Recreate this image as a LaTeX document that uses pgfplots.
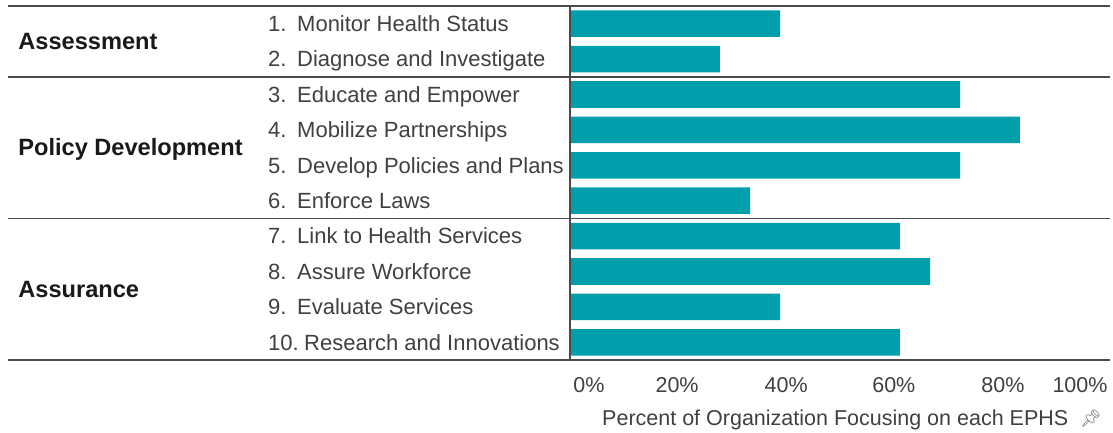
\documentclass[border=0pt]{standalone}
\usepackage{pgfplots}
\pgfplotsset{compat=1.18}
\usepackage{fontspec}
\setmainfont{Liberation Sans}
\newfontfamily\emojifont{Noto Emoji}
\definecolor{barteal}{HTML}{009FAB}
\definecolor{txt}{HTML}{404040}
\definecolor{rule}{HTML}{4A4A4A}
\frenchspacing
\begin{document}
\begin{tikzpicture}[x=1pt,y=1pt]
\useasboundingbox (0,0) rectangle (1113,433);
\begin{axis}[
  at={(570pt,73pt)}, anchor=south west,
  scale only axis, width=510pt, height=354pt,
  xmin=0, xmax=100, ymin=0.5, ymax=10.5,
  y dir=reverse,
  clip=false,
  axis line style={draw=none},
  major tick length=0pt,
  /pgf/number format/assume math mode=true,
  xtick={3.7,21.0,42.4,63.5,84.9,100},
  xticklabels={0\%,20\%,40\%,60\%,80\%,100\%},
  xticklabel style={anchor=base, yshift=-32pt, text=txt, font=\fontsize{21.5}{26}\selectfont},
  ytick={1,2,3,4,5,6,7,8,9,10},
  yticklabels={
    \makebox[29pt][l]{1.}Monitor Health Status,
    \makebox[29pt][l]{2.}Diagnose and Investigate,
    \makebox[29pt][l]{3.}Educate and Empower,
    \makebox[29pt][l]{4.}Mobilize Partnerships,
    \makebox[29pt][l]{5.}Develop Policies and Plans,
    \makebox[29pt][l]{6.}Enforce Laws,
    \makebox[29pt][l]{7.}Link to Health Services,
    \makebox[29pt][l]{8.}Assure Workforce,
    \makebox[29pt][l]{9.}Evaluate Services,
    \makebox[36pt][l]{10.}Research and Innovations},
  yticklabel style={anchor=base west, inner sep=0pt, xshift=-302pt, yshift=-7.9pt, text=txt, font=\fontsize{22}{26}\selectfont},
]
\addplot[xbar, bar width=0.75, fill=barteal, draw=none] coordinates {
  (41.2,1) (29.4,2) (76.5,3) (88.2,4) (76.5,5)
  (35.3,6) (64.7,7) (70.6,8) (41.2,9) (64.7,10)
};
\draw[rule, line width=1.8pt] (axis cs:0,0.5) -- (axis cs:0,10.5);
\pgfplotsinvokeforeach{0.5,2.5,6.5,10.5}{
  \draw[rule, line width=1.8pt] (axis cs:-110.2,#1) -- (axis cs:105.9,#1);
}
\node[anchor=base west, inner sep=0pt, yshift=-8.4pt, font=\fontsize{23.6}{28}\selectfont\bfseries, text=black!90] at (axis cs:-108.2,1.5) {Assessment};
\node[anchor=base west, inner sep=0pt, yshift=-8.4pt, font=\fontsize{23.6}{28}\selectfont\bfseries, text=black!90] at (axis cs:-108.2,4.5) {Policy Development};
\node[anchor=base west, inner sep=0pt, yshift=-8.4pt, font=\fontsize{23.6}{28}\selectfont\bfseries, text=black!90] at (axis cs:-108.2,8.5) {Assurance};
\end{axis}
\node[anchor=base west, inner sep=0pt, text=txt, font=\fontsize{21.5}{26}\selectfont] at (602,7) {Percent of Organization Focusing on each EPHS};
\node[anchor=base west, inner sep=0pt, text=black!55, font=\fontsize{17}{20}\selectfont] at (1080,8) {\emojifont 📌};
\end{tikzpicture}
\end{document}
